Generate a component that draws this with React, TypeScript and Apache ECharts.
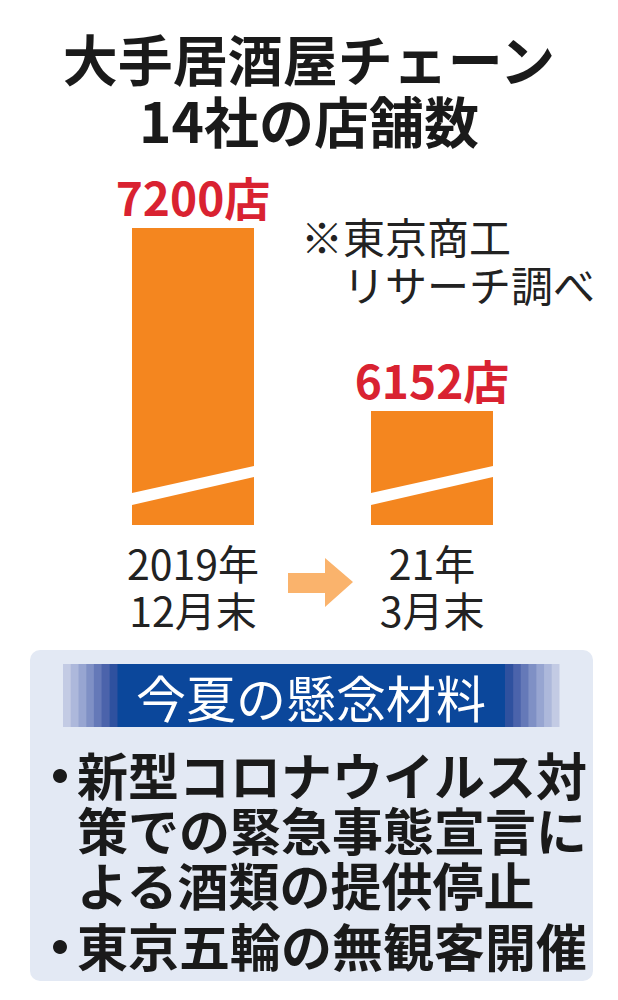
import React, { useEffect, useRef } from "react";
import * as echarts from "echarts";

const categories = ["2019年\n12月末", "21年\n3月末"];
const storeCounts = [7200, 6152];
const valueSuffix = "店";
const titleLines = ["大手居酒屋チェーン", "14社の店舗数"];
const noteLines = ["※東京商工", "リサーチ調べ"];
const panelTitle = "今夏の懸念材料";
const bulletItems = [
  ["新型コロナウイルス対", "策での緊急事態宣言に", "よる酒類の提供停止"],
  ["東京五輪の無観客開催"],
];

const AXIS_MIN = 5500;
const AXIS_MAX = 7200;
const BAR_W = 122;
const CJK = "'Noto Sans CJK JP', 'Noto Sans', sans-serif";

export default function App() {
  const ref = useRef<HTMLDivElement>(null);
  useEffect(() => {
    const chart = echarts.init(ref.current!, null, { renderer: "svg" });

    const stripeL = ["#c3cbe4", "#adb8db", "#97a5d1", "#7f90c5", "#6579b8", "#4b63ab", "#2f519f"];
    const stripes: any[] = [];
    const sw = 54 / stripeL.length;
    stripeL.forEach((c, i) => {
      stripes.push({ type: "rect", shape: { x: 63 + i * sw, y: 664, width: sw + 0.5, height: 63 }, style: { fill: c } });
      stripes.push({ type: "rect", shape: { x: 559 - (i + 1) * sw, y: 664, width: sw + 0.5, height: 63 }, style: { fill: c } });
    });

    const txt = (text: string, x: number, y: number, size: number, lh: number, weight: any, align: string, vAlign: string, fill = "#1a1a1a") => ({
      type: "text",
      style: {
        text, x, y, fontSize: size, lineHeight: lh, fontWeight: weight, fontFamily: CJK, fill,
        align, verticalAlign: vAlign, textAlign: align, textVerticalAlign: vAlign,
      },
    });

    const BULLET_PITCH = 55;
    const itemTops = [774, 945];
    const bulletEls: any[] = [];
    bulletItems.forEach((lines, i) => {
      const y0 = itemTops[i];
      bulletEls.push({ type: "circle", shape: { cx: 60, cy: y0 + 2, r: 7 }, style: { fill: "#1a1a1a" } });
      bulletEls.push(txt(lines.join("\n"), 77, y0 - BULLET_PITCH / 2, 51, BULLET_PITCH, "bold", "left", "top"));
    });

    chart.setOption({
      animation: false,
      grid: { left: 73.5, right: 66.5, top: 228, bottom: 475 },
      xAxis: {
        type: "category",
        data: categories,
        axisLine: { show: false },
        axisTick: { show: false },
        axisLabel: { fontSize: 41, lineHeight: 47, color: "#222", fontFamily: CJK, margin: 13 },
      },
      yAxis: { type: "value", min: AXIS_MIN, max: AXIS_MAX, show: false, splitLine: { show: false } },
      series: [
        {
          type: "bar",
          data: storeCounts,
          barWidth: BAR_W,
          itemStyle: { color: "#f4861f" },
          label: {
            show: true,
            position: "top",
            distance: 9,
            formatter: (p: any) => `${p.value}${valueSuffix}`,
            fontSize: 46,
            fontWeight: "bold",
            fontFamily: CJK,
            color: "#d92231",
          },
        },
        {
          type: "custom",
          z: 5,
          data: storeCounts.map((v, i) => [i, v]),
          renderItem: (params: any, api: any) => {
            const p = api.coord([api.value(0), AXIS_MIN]);
            const x0 = p[0] - BAR_W / 2;
            const x1 = p[0] + BAR_W / 2;
            const b = p[1];
            return {
              type: "polygon",
              shape: { points: [[x0, b - 20], [x1, b - 48], [x1, b - 59], [x0, b - 32]] },
              style: { fill: "#ffffff" },
            };
          },
        },
      ],
      graphic: [
        txt(titleLines.join("\n"), 309, 88, 55, 62, "bold", "center", "middle"),
        txt(noteLines[0], 301, 235, 42, 42, "normal", "left", "middle", "#222"),
        txt(noteLines[1], 343, 283, 42, 42, "normal", "left", "middle", "#222"),
        {
          type: "polygon",
          shape: { points: [[288, 573], [325, 573], [325, 558], [353, 582], [325, 607], [325, 593], [288, 593]] },
          style: { fill: "#fab36c" },
        },
        { type: "rect", shape: { x: 30, y: 650, width: 563, height: 331, r: 10 }, style: { fill: "#e3e9f4" } },
        { type: "rect", shape: { x: 117, y: 664, width: 391, height: 63 }, style: { fill: "#0b479b" } },
        ...stripes,
        txt(panelTitle, 311, 696, 50, 50, "normal", "center", "middle", "#ffffff"),
        ...bulletEls,
      ],
    });
    return () => chart.dispose();
  }, []);
  return <div ref={ref} style={{ position: "absolute", left: 0, top: 0, width: 618, height: 1000 }} />;
}
